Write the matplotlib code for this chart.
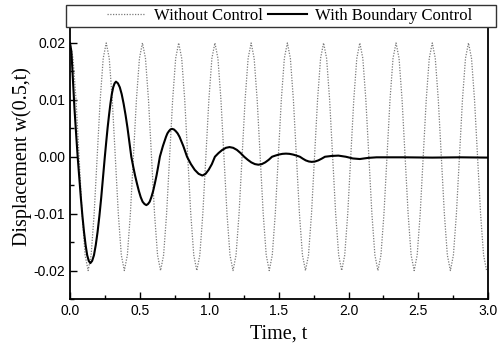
import numpy as np
import matplotlib
matplotlib.use("Agg")
import matplotlib.pyplot as plt
from matplotlib.patches import Rectangle

# ---- data ----
# Without control: samples every T/12 (T ~ 0.26 s) from t = 0
free_step = 0.26 / 12
free_w = [
    0.0200, 0.0173, 0.0100, 0.0000, -0.0100, -0.0173, -0.0200, -0.0173, -0.0100, 0.0000, 0.0100, 0.0173,
    0.0200, 0.0173, 0.0100, 0.0000, -0.0100, -0.0173, -0.0200, -0.0173, -0.0100, 0.0000, 0.0100, 0.0173,
    0.0200, 0.0173, 0.0100, 0.0000, -0.0100, -0.0173, -0.0200, -0.0173, -0.0100, 0.0000, 0.0100, 0.0173,
    0.0200, 0.0173, 0.0100, 0.0000, -0.0100, -0.0173, -0.0200, -0.0173, -0.0100, 0.0000, 0.0100, 0.0173,
    0.0200, 0.0173, 0.0100, 0.0000, -0.0100, -0.0173, -0.0200, -0.0173, -0.0100, 0.0000, 0.0100, 0.0173,
    0.0200, 0.0173, 0.0100, 0.0000, -0.0100, -0.0173, -0.0200, -0.0173, -0.0100, 0.0000, 0.0100, 0.0173,
    0.0200, 0.0173, 0.0100, 0.0000, -0.0100, -0.0173, -0.0200, -0.0173, -0.0100, 0.0000, 0.0100, 0.0173,
    0.0200, 0.0173, 0.0100, 0.0000, -0.0100, -0.0173, -0.0200, -0.0173, -0.0100, 0.0000, 0.0100, 0.0173,
    0.0200, 0.0173, 0.0100, 0.0000, -0.0100, -0.0173, -0.0200, -0.0173, -0.0100, 0.0000, 0.0100, 0.0173,
    0.0200, 0.0173, 0.0100, 0.0000, -0.0100, -0.0173, -0.0200, -0.0173, -0.0100, 0.0000, 0.0100, 0.0173,
    0.0200, 0.0173, 0.0100, 0.0000, -0.0100, -0.0173, -0.0200, -0.0173, -0.0100, 0.0000, 0.0100, 0.0173,
    0.0200, 0.0173, 0.0100, 0.0000, -0.0100, -0.0173, -0.0200,
]
free_t = np.arange(len(free_w)) * free_step

# With boundary control
ctrl_t = [
    0.000, 0.010, 0.020, 0.032, 0.044, 0.055,
    0.0664, 0.0778, 0.0891, 0.1005, 0.1119, 0.1233, 0.1346, 0.146,
    0.159, 0.172, 0.185, 0.198, 0.211, 0.224, 0.237, 0.250,
    0.260, 0.270, 0.280, 0.290, 0.300, 0.310, 0.320, 0.330,
    0.344, 0.3575, 0.371, 0.385, 0.399, 0.4125, 0.426, 0.440,
    0.4535, 0.467, 0.4805, 0.494, 0.5075, 0.521, 0.5345, 0.548,
    0.560, 0.572, 0.584, 0.597, 0.609, 0.621, 0.633, 0.645,
    0.656, 0.667, 0.678, 0.689, 0.699, 0.710, 0.721, 0.732,
    0.7455, 0.759, 0.7725, 0.786, 0.7995, 0.813, 0.8265, 0.840,
    0.868, 0.895, 0.923, 0.950,
    0.973, 0.995, 1.018, 1.040,
    1.066, 1.093, 1.119, 1.145,
    1.171, 1.198, 1.224, 1.250,
    1.276, 1.301, 1.327, 1.352,
    1.377, 1.401, 1.426, 1.450,
    1.475, 1.500, 1.525, 1.550,
    1.575, 1.600, 1.625, 1.650,
    1.671, 1.692, 1.714, 1.735,
    1.759, 1.782, 1.806, 1.830,
    1.878, 1.926, 1.980, 2.030, 2.080, 2.140, 2.200,
    2.400, 2.600, 2.800, 3.000,
]
ctrl_w = [
    0.0200, 0.0185, 0.0140, 0.0085, 0.0040, 0.0000,
    -0.0036, -0.0072, -0.0104, -0.0132, -0.0155, -0.0173, -0.0183, -0.0187,
    -0.0183, -0.0173, -0.0155, -0.0132, -0.0104, -0.0072, -0.0036, 0.0000,
    0.0026, 0.0051, 0.0073, 0.0093, 0.0110, 0.0122, 0.0129, 0.0132,
    0.0129, 0.0122, 0.0110, 0.0093, 0.0073, 0.0051, 0.0026, 0.0000,
    -0.0017, -0.0033, -0.0047, -0.0060, -0.0071, -0.0079, -0.0083, -0.0085,
    -0.0083, -0.0079, -0.0071, -0.0060, -0.0047, -0.0033, -0.0017, 0.0000,
    0.00096, 0.0019, 0.0027, 0.0035, 0.0041, 0.0045, 0.0048, 0.0049,
    0.0048, 0.0045, 0.0041, 0.0035, 0.0027, 0.0019, 0.00096, 0.0000,
    -0.0013, -0.0023, -0.0030, -0.0033,
    -0.0030, -0.0023, -0.0013, 0.0000,
    0.00065, 0.0012, 0.00157, 0.0017,
    0.00157, 0.0012, 0.00065, 0.0000,
    -0.00054, -0.00099, -0.00129, -0.0014,
    -0.00129, -0.00099, -0.00054, 0.0000,
    0.00021, 0.00039, 0.00051, 0.00055,
    0.00051, 0.00039, 0.00021, 0.0000,
    -0.00034, -0.00064, -0.00083, -0.0009,
    -0.00083, -0.00064, -0.00034, 0.0000,
    0.00014, 0.0002, 0.0000, -0.0003, -0.0004, -0.0002, -0.0001,
    -0.0001, -0.00015, -0.0001, -0.00015,
]

x_ticks = [0.0, 0.5, 1.0, 1.5, 2.0, 2.5, 3.0]
x_ticklabels = ["0.0", "0.5", "1.0", "1.5", "2.0", "2.5", "3.0"]
y_ticks = [-0.02, -0.01, 0.00, 0.01, 0.02]
y_ticklabels = ["-0.02", "-0.01", "0.00", "0.01", "0.02"]
labels = ["Without Control", "With Boundary Control"]

# ---- figure ----
W, H = 499, 347
fig = plt.figure(figsize=(W / 100, H / 100), dpi=100)
ax = fig.add_axes([70 / W, 1 - 299 / H, (488 - 70) / W, (299 - 14.5) / H])

serif = ["Liberation Serif", "DejaVu Serif"]
sans = ["Liberation Sans", "DejaVu Sans"]

l1, = ax.plot(free_t, free_w, linestyle=(0, (1, 1.2)), color="#7a7a7a", lw=0.9)
l2, = ax.plot(ctrl_t, ctrl_w, color="black", lw=1.5)

ax.set_xlim(0, 3.0)
ax.set_ylim(-0.025, 0.025)
ax.set_xticks(x_ticks)
ax.set_xticklabels(x_ticklabels)
ax.set_yticks(y_ticks)
ax.set_yticklabels(y_ticklabels)
ax.set_xticks(np.arange(0.25, 3.0, 0.5), minor=True)
ax.set_yticks([-0.025, -0.015, -0.005, 0.005, 0.015], minor=True)
ax.tick_params(which="both", direction="in", width=1.0)
ax.tick_params(which="major", length=5)
ax.tick_params(which="minor", length=3)
for lab in ax.get_xticklabels() + ax.get_yticklabels():
    lab.set_family(sans)
    lab.set_fontsize(10)
for s in ax.spines.values():
    s.set_linewidth(1.3)

ax.set_xlabel("Time, t", family=serif, fontsize=14.5, labelpad=5)
ax.set_ylabel("Displacement w(0.5,t)", family=serif, fontsize=14.5, labelpad=1)

# legend frame and legend
rect = Rectangle((66 / W, 1 - 27 / H), (496 - 66) / W, (27 - 5) / H,
                 transform=fig.transFigure, facecolor="white",
                 edgecolor="#333333", lw=1.0, zorder=5)
fig.patches.append(rect)
leg = fig.legend([l1, l2], labels, loc="center left",
                 bbox_to_anchor=(107 / W, 1 - 16 / H), ncol=2, frameon=False,
                 prop={"family": serif, "size": 12}, handlelength=2.3,
                 handletextpad=0.5, columnspacing=0.35, borderaxespad=0,
                 borderpad=0)
leg.set_zorder(6)

fig.savefig("out.png", dpi=100)
